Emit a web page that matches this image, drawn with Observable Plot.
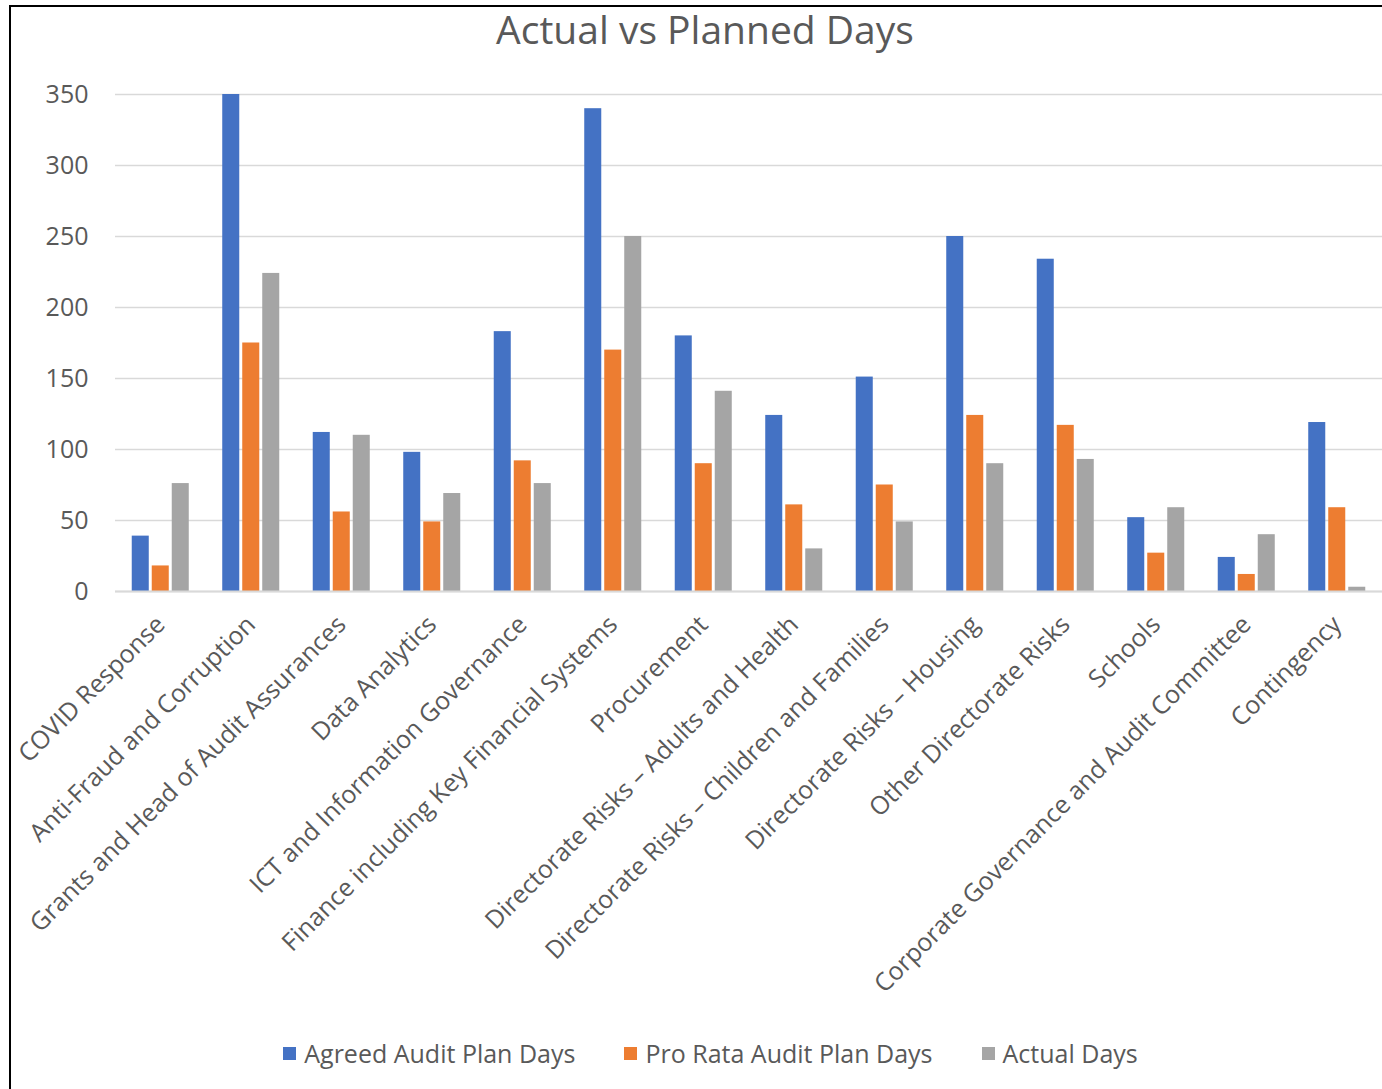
<!DOCTYPE html>
<html>
<head>
<meta charset="utf-8">
<script src="https://cdn.jsdelivr.net/npm/d3@7"></script>
<script src="https://cdn.jsdelivr.net/npm/@observablehq/plot@0.6"></script>
<style>
  html, body { margin: 0; padding: 0; background: #fff; }
  #wrap { position: relative; width: 1382px; height: 1089px; overflow: hidden; font-family: "Open Sans", sans-serif; color: #595959; }
  #frame { position: absolute; left: 9px; top: 5px; width: 1400px; height: 1100px; border-left: 2px solid #000; border-top: 2px solid #000; box-sizing: border-box; }
  #title { position: absolute; top: 2px; left: 0; width: 1410px; text-align: center; font-size: 39px; color: #595959; }
  #chart { position: absolute; left: 0; top: 0; }
  #legend { position: absolute; top: 1036px; left: 0; width: 1421px; display: flex; justify-content: center; gap: 49px; font-size: 25px; color: #595959; }
  #legend .item { display: flex; align-items: center; }
  #legend .sw { width: 13px; height: 13px; margin-right: 8px; }
</style>
</head>
<body>
<div id="wrap">
  <div id="frame"></div>
  <div id="title">Actual vs Planned Days</div>
  <div id="chart"></div>
  <div id="legend"></div>
</div>
<script>
const categories = [
  "COVID Response",
  "Anti-Fraud and Corruption",
  "Grants and Head of Audit Assurances",
  "Data Analytics",
  "ICT and Information Governance",
  "Finance including Key Financial Systems",
  "Procurement",
  "Directorate Risks – Adults and Health",
  "Directorate Risks – Children and Families",
  "Directorate Risks – Housing",
  "Other Directorate Risks",
  "Schools",
  "Corporate Governance and Audit Committee",
  "Contingency"
];
const agreedDays  = [39, 350, 112, 98, 183, 340, 180, 124, 151, 250, 234, 52, 24, 119];
const proRataDays = [18, 175, 56, 49, 92, 170, 90, 61, 75, 124, 117, 27, 12, 59];
const actualDays  = [76, 224, 110, 69, 76, 250, 141, 30, 49, 90, 93, 59, 40, 3];
const seriesNames = ["Agreed Audit Plan Days", "Pro Rata Audit Plan Days", "Actual Days"];
const seriesColors = ["#4472C4", "#ED7D31", "#A5A5A5"];
const yTicks = [0, 50, 100, 150, 200, 250, 300, 350];

const rows = categories.map((c, i) => ({
  category: c,
  agreed: agreedDays[i],
  proRata: proRataDays[i],
  actual: actualDays[i]
}));

// bar widths inside each category band (band ~57px: 3 bars of 17px with 3px gaps)
const barW = 17, gapW = 3;
const keys = ["agreed", "proRata", "actual"];
const bw = 3 * barW + 2 * gapW;
const barMarks = keys.map((k, j) => Plot.barY(rows, {
  x: "category",
  y: k,
  fill: seriesColors[j],
  insetLeft: j * (barW + gapW),
  insetRight: bw - (j * (barW + gapW) + barW)
}));

const chart = Plot.plot({
  width: 1382,
  height: 1020,
  marginLeft: 115,
  marginRight: 0,
  marginTop: 94,
  marginBottom: 429,
  style: { fontFamily: "Open Sans, sans-serif", fontSize: "25px", color: "#595959", background: "transparent", overflow: "visible" },
  x: { domain: categories, paddingInner: 0.37, paddingOuter: 0.185, round: false, label: null },
  y: { domain: [0, 350], label: null },
  marks: [
    Plot.gridY(yTicks, { stroke: "#d9d9d9", strokeOpacity: 1, strokeWidth: 1.5 }),
    ...barMarks,
    Plot.ruleY([0], { stroke: "#d9d9d9", strokeWidth: 2 }),
    Plot.axisY(yTicks, { tickSize: 0, tickPadding: 27, fontSize: 25, fill: "#595959", label: null }),
    Plot.axisX({ tickSize: 0, tickPadding: 29, tickRotate: -45, fontSize: 25, fill: "#595959", label: null })
  ]
});
document.getElementById("chart").appendChild(chart);

const legend = document.getElementById("legend");
seriesNames.forEach((n, i) => {
  const it = document.createElement("div");
  it.className = "item";
  const sw = document.createElement("div");
  sw.className = "sw";
  sw.style.background = seriesColors[i];
  const t = document.createElement("span");
  t.textContent = n;
  it.appendChild(sw);
  it.appendChild(t);
  legend.appendChild(it);
});
</script>
</body>
</html>
